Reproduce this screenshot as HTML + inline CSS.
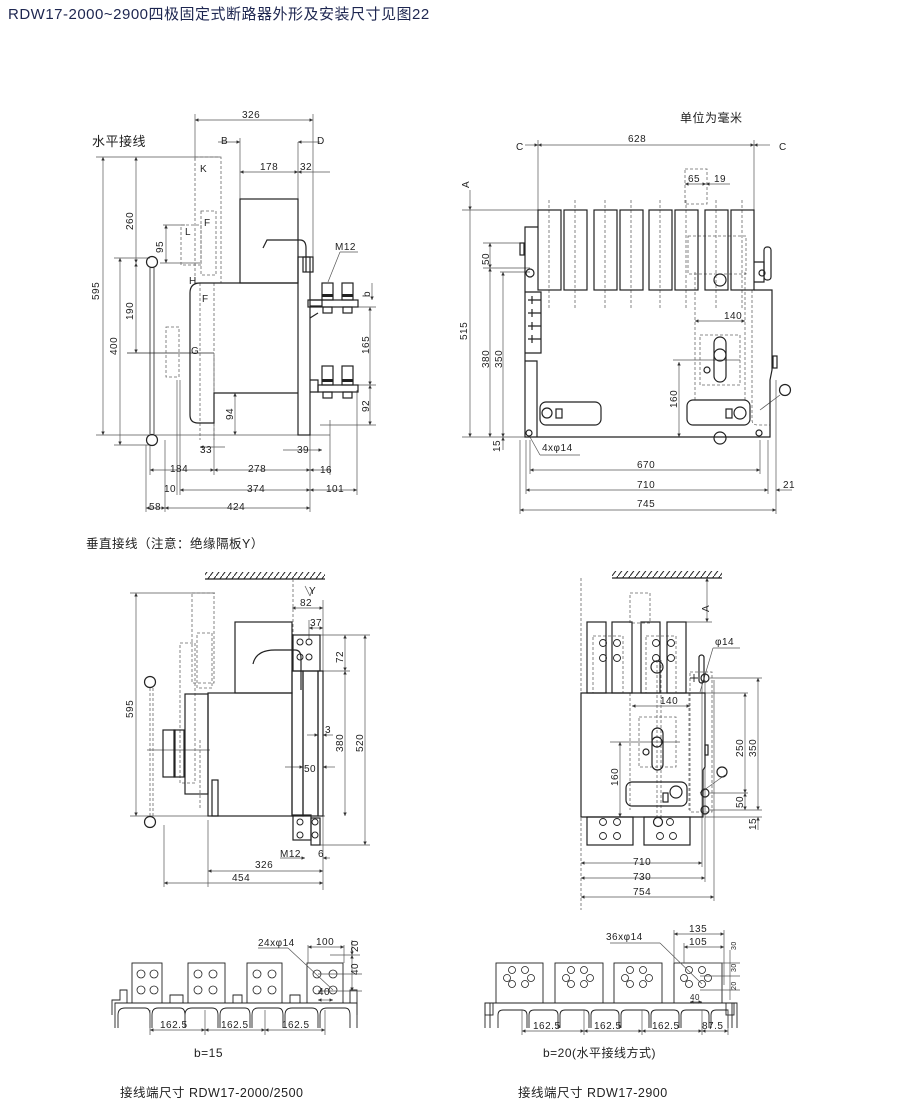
<!DOCTYPE html>
<html><head><meta charset="utf-8"><style>
html,body{margin:0;padding:0;background:#fff;}
svg{display:block;font-family:"Liberation Sans","Noto Sans CJK SC",sans-serif;}
.l{stroke:#222;stroke-width:1;fill:none}
.t{stroke:#222;stroke-width:1.2;fill:none}
.d{stroke:#555;stroke-width:0.7;fill:none}
.ds{stroke:#666;stroke-width:0.8;fill:none;stroke-dasharray:3,2}
text{font-size:10px;fill:#222;letter-spacing:0.5px}
.cn{font-size:12px}
</style></head><body>
<svg width="920" height="1105" viewBox="0 0 920 1105">
<defs>
<marker id="a" viewBox="0 0 6 6" refX="6" refY="3" markerWidth="5" markerHeight="5" orient="auto-start-reverse"><path d="M0,0 L6,3 L0,6z" fill="#333"/></marker>
<pattern id="h" width="6" height="8" patternUnits="userSpaceOnUse"><line x1="0" y1="8" x2="6" y2="0" stroke="#222" stroke-width="1"/></pattern>
</defs>
<text x="8" y="19" style="font-size:15px;fill:#1d2650">RDW17-2000~2900四极固定式断路器外形及安装尺寸见图22</text>

<!-- ============ TOP LEFT ============ -->
<text x="92" y="146" class="cn" style="font-size:13px">水平接线</text>
<g class="d">
<line x1="195" y1="114" x2="195" y2="160"/><line x1="313" y1="114" x2="313" y2="260"/>
<line x1="195" y1="120" x2="313" y2="120" marker-start="url(#a)" marker-end="url(#a)"/>
<line x1="240" y1="138" x2="240" y2="200"/><line x1="298" y1="142" x2="298" y2="200"/>
<line x1="218" y1="142" x2="240" y2="142" marker-end="url(#a)"/>
<line x1="320" y1="142" x2="298" y2="142" marker-end="url(#a)"/>
<line x1="240" y1="172" x2="298" y2="172" marker-start="url(#a)" marker-end="url(#a)"/>
<line x1="298" y1="172" x2="330" y2="172" marker-start="url(#a)"/>
<line x1="96" y1="157" x2="220" y2="157"/>
<line x1="103" y1="157" x2="103" y2="435" marker-start="url(#a)" marker-end="url(#a)"/>
<line x1="136" y1="157" x2="136" y2="263" marker-start="url(#a)" marker-end="url(#a)"/>
<line x1="136" y1="263" x2="136" y2="353" marker-start="url(#a)" marker-end="url(#a)"/>
<line x1="120" y1="258" x2="120" y2="445" marker-start="url(#a)" marker-end="url(#a)"/>
<line x1="114" y1="258" x2="150" y2="258"/><line x1="114" y1="445" x2="150" y2="445"/>
<line x1="163" y1="225" x2="185" y2="225"/><line x1="160" y1="263" x2="200" y2="263"/>
<line x1="166" y1="225" x2="166" y2="263" marker-start="url(#a)" marker-end="url(#a)"/>
<line x1="96" y1="435" x2="330" y2="435"/>
<line x1="235" y1="393" x2="235" y2="435" marker-start="url(#a)" marker-end="url(#a)"/>
<line x1="200" y1="447" x2="225" y2="447" marker-start="url(#a)"/>
<line x1="283" y1="450" x2="322" y2="450" marker-end="url(#a)"/>
<line x1="150" y1="445" x2="150" y2="475"/><line x1="214" y1="355" x2="214" y2="475"/>
<line x1="310" y1="435" x2="310" y2="512"/><line x1="330" y1="420" x2="330" y2="475"/>
<line x1="357" y1="390" x2="357" y2="495"/>
<line x1="150" y1="470" x2="214" y2="470" marker-start="url(#a)" marker-end="url(#a)"/>
<line x1="214" y1="470" x2="310" y2="470" marker-start="url(#a)" marker-end="url(#a)"/>
<line x1="310" y1="470" x2="330" y2="470" marker-start="url(#a)"/>
<line x1="180" y1="380" x2="180" y2="495"/><line x1="177" y1="380" x2="177" y2="495"/>
<line x1="180" y1="490" x2="310" y2="490" marker-start="url(#a)" marker-end="url(#a)"/>
<line x1="310" y1="490" x2="357" y2="490" marker-start="url(#a)" marker-end="url(#a)"/>
<line x1="146" y1="445" x2="146" y2="512"/><line x1="165" y1="440" x2="165" y2="512"/>
<line x1="146" y1="508" x2="165" y2="508" marker-start="url(#a)" marker-end="url(#a)"/>
<line x1="165" y1="508" x2="310" y2="508" marker-start="url(#a)" marker-end="url(#a)"/>
<line x1="370" y1="307" x2="370" y2="385" marker-start="url(#a)" marker-end="url(#a)"/>
<line x1="370" y1="385" x2="370" y2="425" marker-start="url(#a)" marker-end="url(#a)"/>
<line x1="358" y1="307" x2="376" y2="307"/><line x1="358" y1="385" x2="376" y2="385"/><line x1="320" y1="425" x2="376" y2="425"/>
<line x1="372" y1="283" x2="372" y2="300" marker-end="url(#a)"/>
<line x1="127" y1="353" x2="214" y2="353" style="stroke:#222"/>
<line x1="328" y1="282" x2="340" y2="252"/><line x1="340" y1="252" x2="358" y2="252"/>
</g>
<g class="ds">
<rect x="195" y="157" width="26" height="126"/><rect x="201" y="211" width="15" height="64"/>
<rect x="181" y="225" width="20" height="40"/><rect x="166" y="327" width="13" height="50"/>
<path d="M200,283 V440 M214,283 V440"/>
</g>
<g class="t">
<rect x="240" y="199" width="58" height="84"/>
<path d="M298,283 H200 Q190,283 190,293 V415 Q190,423 198,423 H214 V393 H298"/>
<rect x="298" y="257" width="12" height="178"/>
<path d="M310,300 L322,300 L322,306 L310,306 M310,318 L318,313 M310,380 L318,380 V392 H310"/>
<rect x="308" y="300" width="50" height="7"/>
<rect x="318" y="385" width="40" height="7"/>
<rect x="322" y="283" width="11" height="17"/><rect x="342" y="283" width="11" height="17"/>
<rect x="322" y="366" width="11" height="19"/><rect x="342" y="366" width="11" height="19"/>
<rect x="323" y="307" width="9" height="6"/><rect x="343" y="307" width="9" height="6"/>
<rect x="323" y="392" width="9" height="6"/><rect x="343" y="392" width="9" height="6"/>
<path d="M263,248 L267,240 H300 Q306,240 306,248 V272"/>
<rect x="303" y="257" width="10" height="15"/>
<circle cx="152" cy="262" r="5.5"/><circle cx="152" cy="440" r="5.5"/>
<path d="M150,268 V434 M154,268 V434" style="stroke-width:0.8"/>
</g>
<g fill="#222" stroke="none"><rect x="322" y="294" width="11" height="3"/><rect x="342" y="294" width="11" height="3"/><rect x="322" y="379" width="11" height="3"/><rect x="342" y="379" width="11" height="3"/></g>
<text x="242" y="118">326</text><text x="221" y="144">B</text><text x="317" y="144">D</text>
<text x="260" y="170">178</text><text x="300" y="170">32</text>
<text x="200" y="172">K</text><text x="204" y="226">F</text><text x="185" y="235">L</text>
<text x="189" y="284">H</text><text x="202" y="302">F</text><text x="191" y="354">G</text>
<text x="335" y="250">M12</text>
<text transform="translate(99,300) rotate(-90)">595</text>
<text transform="translate(133,230) rotate(-90)">260</text>
<text transform="translate(133,320) rotate(-90)">190</text>
<text transform="translate(117,355) rotate(-90)">400</text>
<text transform="translate(163,253) rotate(-90)">95</text>
<text transform="translate(233,420) rotate(-90)">94</text>
<text transform="translate(369,354) rotate(-90)">165</text>
<text transform="translate(369,412) rotate(-90)">92</text>
<text transform="translate(370,297) rotate(-90)">b</text>
<text x="200" y="453">33</text><text x="297" y="453">39</text>
<text x="170" y="472">184</text><text x="248" y="472">278</text><text x="320" y="473">16</text>
<text x="164" y="492">10</text><text x="247" y="492">374</text><text x="326" y="492">101</text>
<text x="149" y="510">58</text><text x="227" y="510">424</text>

<!-- ============ TOP RIGHT ============ -->
<text x="680" y="122" class="cn">单位为毫米</text>
<g class="d">
<line x1="538" y1="140" x2="538" y2="212"/><line x1="754" y1="140" x2="754" y2="212"/>
<line x1="538" y1="145" x2="754" y2="145" marker-start="url(#a)" marker-end="url(#a)"/>
<line x1="525" y1="145" x2="538" y2="145" marker-end="url(#a)"/>
<line x1="770" y1="145" x2="754" y2="145" marker-end="url(#a)"/>
<line x1="470" y1="190" x2="470" y2="210" marker-end="url(#a)"/>
<line x1="462" y1="210" x2="538" y2="210"/>
<line x1="470" y1="210" x2="470" y2="437" marker-end="url(#a)"/>
<line x1="462" y1="437" x2="530" y2="437"/>
<line x1="483" y1="243" x2="525" y2="243"/><line x1="483" y1="268" x2="530" y2="268"/>
<line x1="490" y1="243" x2="490" y2="268" marker-start="url(#a)" marker-end="url(#a)"/>
<line x1="490" y1="268" x2="490" y2="437" marker-start="url(#a)" marker-end="url(#a)"/>
<line x1="500" y1="272" x2="530" y2="272"/>
<line x1="503" y1="272" x2="503" y2="437" marker-start="url(#a)" marker-end="url(#a)"/>
<line x1="503" y1="450" x2="503" y2="437" marker-end="url(#a)"/>
<line x1="685" y1="184" x2="706" y2="184" marker-start="url(#a)" marker-end="url(#a)"/>
<line x1="706" y1="184" x2="730" y2="184" marker-start="url(#a)"/>
<line x1="695" y1="321" x2="745" y2="321" marker-start="url(#a)" marker-end="url(#a)"/>
<line x1="673" y1="360" x2="740" y2="360"/>
<line x1="679" y1="362" x2="679" y2="437" marker-start="url(#a)" marker-end="url(#a)"/>
<line x1="530" y1="440" x2="530" y2="474"/><line x1="760" y1="440" x2="760" y2="474"/>
<line x1="526" y1="440" x2="526" y2="494"/><line x1="768" y1="440" x2="768" y2="494"/>
<line x1="520" y1="440" x2="520" y2="514"/><line x1="776" y1="380" x2="776" y2="514"/>
<line x1="530" y1="470" x2="760" y2="470" marker-start="url(#a)" marker-end="url(#a)"/>
<line x1="526" y1="490" x2="768" y2="490" marker-start="url(#a)" marker-end="url(#a)"/>
<line x1="520" y1="510" x2="776" y2="510" marker-start="url(#a)" marker-end="url(#a)"/>
<line x1="792" y1="490" x2="776" y2="490" marker-end="url(#a)"/>
<line x1="530" y1="437" x2="540" y2="455"/><line x1="540" y1="455" x2="580" y2="455"/>
<line x1="760" y1="410" x2="780" y2="395"/>
</g>
<g class="ds">
<path d="M549,200 V308 M575,200 V308 M605,200 V308 M631,200 V308 M660,200 V308 M686,200 V308 M716,200 V308 M742,200 V308"/>
<rect x="685" y="169" width="22" height="35"/>
<rect x="688" y="236" width="58" height="38"/>
<rect x="700" y="335" width="40" height="50"/>
<path d="M695,272 V400 M745,272 V400 M752,290 V420 Q752,425 758,425 H770 V380"/>
</g>
<g class="t">
<rect x="538" y="210" width="23" height="80"/><rect x="564" y="210" width="23" height="80"/>
<rect x="594" y="210" width="23" height="80"/><rect x="620" y="210" width="23" height="80"/>
<rect x="649" y="210" width="23" height="80"/><rect x="675" y="210" width="23" height="80"/>
<rect x="705" y="210" width="23" height="80"/><rect x="731" y="210" width="23" height="80"/>
<path d="M538,227 H525 V437 H770 V380 L772,370 V290 H754"/>
<path d="M525,292 H541 V353 H525 M525,361 H537 V437"/>
<path d="M754,262 H764 V282 H754"/>
<rect x="764" y="247" width="7" height="33" rx="3"/>
<rect x="520" y="243" width="4" height="12"/>
<rect x="773" y="356" width="4" height="12"/>
<rect x="540" y="402" width="61" height="23" rx="6"/>
<rect x="687" y="400" width="63" height="25" rx="6"/>
<rect x="714" y="337" width="12" height="45" rx="6"/>
<circle cx="720" cy="355" r="6"/><circle cx="707" cy="370" r="3"/>
<circle cx="720" cy="280" r="6"/><circle cx="720" cy="438" r="6"/>
<circle cx="530" cy="273" r="4"/><circle cx="529" cy="433" r="3"/><circle cx="759" cy="433" r="3"/>
<circle cx="547" cy="413" r="5"/><rect x="556" y="409" width="6" height="9"/>
<circle cx="740" cy="413" r="6"/><rect x="726" y="409" width="6" height="9"/>
<circle cx="785" cy="390" r="5.5"/><circle cx="762" cy="273" r="3"/>
</g>
<g class="l" style="stroke-width:1.2">
<path d="M528,300 h8 M532,296 v8 M540,300 h0 M528,313 h8 M532,309 v8 M528,326 h8 M532,322 v8 M528,339 h8 M532,335 v8"/>
<path d="M536,300 h5 M536,313 h5 M536,326 h5 M536,339 h5"/>
</g>
<text x="628" y="142">628</text><text x="516" y="150">C</text><text x="779" y="150">C</text>
<text x="688" y="182">65</text><text x="714" y="182">19</text>
<text x="724" y="319">140</text>
<text transform="translate(469,188) rotate(-90)">A</text>
<text transform="translate(467,340) rotate(-90)">515</text>
<text transform="translate(489,265) rotate(-90)">50</text>
<text transform="translate(489,368) rotate(-90)">380</text>
<text transform="translate(502,368) rotate(-90)">350</text>
<text transform="translate(500,452) rotate(-90)">15</text>
<text transform="translate(677,408) rotate(-90)">160</text>
<text x="542" y="451">4xφ14</text>
<text x="637" y="468">670</text><text x="637" y="488">710</text><text x="637" y="507">745</text>
<text x="783" y="488">21</text>

<!-- ============ MIDDLE LEFT ============ -->
<text x="86" y="548" class="cn" style="font-size:12.5px">垂直接线（注意：绝缘隔板Y）</text>
<rect x="205" y="572" width="120" height="7" fill="url(#h)"/>
<line x1="205" y1="579" x2="325" y2="579" class="t"/>
<g class="d">
<line x1="130" y1="593" x2="215" y2="593"/>
<line x1="136" y1="593" x2="136" y2="816" marker-start="url(#a)" marker-end="url(#a)"/>
<line x1="130" y1="816" x2="325" y2="816"/>
<line x1="292" y1="608" x2="323" y2="608" marker-start="url(#a)" marker-end="url(#a)"/>
<line x1="309" y1="628" x2="323" y2="628" marker-start="url(#a)" marker-end="url(#a)"/>
<line x1="323" y1="600" x2="323" y2="890"/><line x1="309" y1="620" x2="309" y2="640"/>
<line x1="320" y1="635" x2="370" y2="635"/><line x1="320" y1="671" x2="350" y2="671"/><line x1="320" y1="845" x2="370" y2="845"/>
<line x1="345" y1="635" x2="345" y2="671" marker-start="url(#a)" marker-end="url(#a)"/>
<line x1="345" y1="671" x2="345" y2="816" marker-start="url(#a)" marker-end="url(#a)"/>
<line x1="365" y1="635" x2="365" y2="845" marker-start="url(#a)" marker-end="url(#a)"/>
<line x1="307" y1="735" x2="318" y2="735" marker-end="url(#a)"/>
<line x1="333" y1="735" x2="323" y2="735" marker-end="url(#a)"/>
<line x1="285" y1="767" x2="303" y2="767" marker-end="url(#a)"/>
<line x1="335" y1="767" x2="323" y2="767" marker-end="url(#a)"/>
<line x1="280" y1="858" x2="305" y2="858" marker-end="url(#a)"/>
<line x1="330" y1="858" x2="323" y2="858" marker-end="url(#a)"/>
<line x1="208" y1="820" x2="208" y2="887"/><line x1="164" y1="825" x2="164" y2="887"/>
<line x1="208" y1="871" x2="323" y2="871" marker-start="url(#a)" marker-end="url(#a)"/>
<line x1="164" y1="883" x2="323" y2="883" marker-start="url(#a)" marker-end="url(#a)"/>
<line x1="147" y1="750" x2="210" y2="750"/>
<line x1="305" y1="586" x2="310" y2="596" /><line x1="310" y1="596" x2="312" y2="590"/>
</g>
<g class="ds">
<path d="M293,579 V640"/>
<rect x="192" y="593" width="22" height="90"/><rect x="197" y="633" width="15" height="55"/>
<rect x="180" y="643" width="15" height="140"/>
<path d="M150,688 V816 M153,688 V816 M200,740 V810"/>
</g>
<g class="t">
<rect x="235" y="622" width="57" height="71"/>
<rect x="208" y="693" width="84" height="123"/>
<rect x="185" y="694" width="23" height="100"/>
<rect x="163" y="730" width="12" height="47"/><rect x="174" y="730" width="10" height="47"/>
<rect x="292" y="671" width="11" height="145"/>
<rect x="303" y="671" width="15" height="145"/><rect x="318" y="671" width="5" height="145"/>
<rect x="212" y="780" width="6" height="36"/>
<path d="M253,664 Q256,650 275,650 H295 Q301,650 301,658 V690"/>
<circle cx="150" cy="682" r="5.5"/><circle cx="150" cy="822" r="5.5"/>
<rect x="293" y="635" width="27" height="36"/>
<rect x="293" y="815" width="18" height="25"/><rect x="311" y="818" width="9" height="27"/>
</g>
<g class="l"><circle cx="300" cy="642" r="3"/><circle cx="300" cy="657" r="3"/><circle cx="309" cy="642" r="3"/><circle cx="309" cy="657" r="3"/><circle cx="300" cy="822" r="3"/><circle cx="300" cy="835" r="3"/><circle cx="315" cy="822" r="3"/><circle cx="315" cy="835" r="3"/></g>
<text x="309" y="594">Y</text>
<text x="300" y="606">82</text><text x="310" y="626">37</text>
<text transform="translate(343,663) rotate(-90)">72</text>
<text transform="translate(343,752) rotate(-90)">380</text>
<text transform="translate(363,752) rotate(-90)">520</text>
<text x="325" y="733">3</text><text x="304" y="772">50</text>
<text x="280" y="857">M12</text><text x="318" y="857">6</text>
<text x="255" y="868">326</text><text x="232" y="881">454</text>
<text transform="translate(133,718) rotate(-90)">595</text>

<!-- ============ MIDDLE RIGHT ============ -->
<rect x="612" y="571" width="110" height="7" fill="url(#h)"/>
<line x1="612" y1="578" x2="722" y2="578" class="t"/>
<g class="d">
<line x1="707" y1="578" x2="707" y2="622" marker-start="url(#a)" marker-end="url(#a)"/>
<line x1="686" y1="622" x2="712" y2="622"/>
<line x1="632" y1="706" x2="690" y2="706" marker-start="url(#a)" marker-end="url(#a)"/>
<line x1="610" y1="742" x2="680" y2="742"/>
<line x1="620" y1="742" x2="620" y2="817" marker-start="url(#a)" marker-end="url(#a)"/>
<line x1="710" y1="678" x2="762" y2="678"/><line x1="705" y1="693" x2="748" y2="693"/>
<line x1="710" y1="793" x2="748" y2="793"/><line x1="710" y1="810" x2="762" y2="810"/>
<line x1="745" y1="693" x2="745" y2="793" marker-start="url(#a)" marker-end="url(#a)"/>
<line x1="745" y1="793" x2="745" y2="810" marker-start="url(#a)" marker-end="url(#a)"/>
<line x1="758" y1="678" x2="758" y2="810" marker-start="url(#a)" marker-end="url(#a)"/>
<line x1="758" y1="830" x2="758" y2="817" marker-end="url(#a)"/>
<line x1="705" y1="817" x2="762" y2="817"/>
<line x1="702" y1="680" x2="702" y2="867"/><line x1="705" y1="680" x2="705" y2="882"/><line x1="714" y1="680" x2="714" y2="901"/>
<line x1="581" y1="863" x2="702" y2="863" marker-start="url(#a)" marker-end="url(#a)"/>
<line x1="581" y1="878" x2="705" y2="878" marker-start="url(#a)" marker-end="url(#a)"/>
<line x1="581" y1="897" x2="714" y2="897" marker-start="url(#a)" marker-end="url(#a)"/>
<line x1="700" y1="692" x2="713" y2="648"/><line x1="713" y1="648" x2="740" y2="648"/>
<line x1="700" y1="793" x2="725" y2="775"/>
</g>
<g class="ds">
<path d="M581,578 V910"/>
<rect x="630" y="593" width="20" height="30"/>
<rect x="593" y="636" width="30" height="57"/><rect x="646" y="636" width="30" height="57"/>
<rect x="639" y="717" width="37" height="50"/>
<path d="M630,693 V810 M689,693 V810 M657,660 V820 M661,660 V820"/>
<rect x="690" y="672" width="22" height="140"/>
</g>
<g class="t">
<rect x="587" y="622" width="19" height="71"/><rect x="612" y="622" width="20" height="71"/>
<rect x="641" y="622" width="19" height="71"/><rect x="667" y="622" width="19" height="71"/>
<path d="M581,693 H705 V767 L703,770 V817 H581 Z"/>
<rect x="587" y="817" width="46" height="28"/><rect x="644" y="817" width="46" height="28"/>
<rect x="626" y="782" width="61" height="24" rx="6"/>
<rect x="652" y="728" width="11" height="42" rx="5.5"/>
<circle cx="657" cy="742" r="5"/><circle cx="646" cy="752" r="3"/>
<circle cx="676" cy="792" r="6"/><rect x="663" y="793" width="5" height="9"/>
<circle cx="657" cy="667" r="6"/>
<rect x="699" y="655" width="5" height="28" rx="2.5"/>
<circle cx="705" cy="678" r="4"/><circle cx="705" cy="793" r="4"/><circle cx="705" cy="810" r="4"/>
<circle cx="722" cy="772" r="5"/>
<rect x="705" y="745" width="3" height="10"/>
<circle cx="658" cy="822" r="4.5"/>
</g>
<g class="l" style="stroke-width:0.9">
<circle cx="603" cy="643" r="3.5"/><circle cx="603" cy="658" r="3.5"/><circle cx="617" cy="643" r="3.5"/><circle cx="617" cy="658" r="3.5"/>
<circle cx="656" cy="643" r="3.5"/><circle cx="656" cy="658" r="3.5"/><circle cx="671" cy="643" r="3.5"/><circle cx="671" cy="658" r="3.5"/>
<circle cx="603" cy="822" r="3.5"/><circle cx="603" cy="836" r="3.5"/><circle cx="617" cy="822" r="3.5"/><circle cx="617" cy="836" r="3.5"/>
<circle cx="670" cy="822" r="3.5"/><circle cx="660" cy="836" r="3.5"/><circle cx="673" cy="836" r="3.5"/>
<path d="M690,678 h8 M694,674 v8"/>
</g>
<text transform="translate(709,612) rotate(-90)">A</text>
<text x="715" y="645">φ14</text>
<text x="660" y="704">140</text>
<text transform="translate(743,757) rotate(-90)">250</text>
<text transform="translate(756,757) rotate(-90)">350</text>
<text transform="translate(618,786) rotate(-90)">160</text>
<text transform="translate(743,808) rotate(-90)">50</text>
<text transform="translate(756,830) rotate(-90)">15</text>
<text x="633" y="865">710</text><text x="633" y="880">730</text><text x="633" y="895">754</text>

<!-- ============ BOTTOM LEFT ============ -->
<g class="t" style="stroke-width:0.9">
<rect x="132" y="963" width="30" height="40"/><rect x="188" y="963" width="37" height="40"/>
<rect x="247" y="963" width="35" height="40"/><rect x="307" y="963" width="36" height="40"/>
<path d="M112,1015 V1000 H120 V990 H127 V1003 M350,1003 V990 H357 V1015 M170,1003 V995 H183 V1003 M233,1003 V995 H242 V1003 M290,1003 V995 H300 V1003"/>
<path d="M115,1028 V1003 H357 V1028"/>
<path d="M118,1028 V1015 Q118,1008 125,1008 H145 Q150,1008 150,1015 V1028 M152,1028 V1015 Q152,1008 158,1008 H180 Q185,1008 185,1015 V1028 M185,1028 V1015 Q185,1008 192,1008 H212 Q218,1008 218,1015 V1028 M220,1028 V1015 Q220,1008 227,1008 H245 Q250,1008 250,1015 V1028 M252,1028 V1015 Q252,1008 258,1008 H278 Q283,1008 283,1015 V1028 M285,1028 V1015 Q285,1008 292,1008 H312 Q318,1008 318,1015 V1028 M320,1028 V1015 Q320,1008 327,1008 H345 Q350,1008 350,1015 V1028"/>
</g>
<g class="l" style="stroke-width:0.8">
<circle cx="141" cy="974" r="4"/><circle cx="154" cy="974" r="4"/><circle cx="141" cy="990" r="4"/><circle cx="154" cy="990" r="4"/>
<circle cx="198" cy="974" r="4"/><circle cx="213" cy="974" r="4"/><circle cx="198" cy="990" r="4"/><circle cx="213" cy="990" r="4"/>
<circle cx="257" cy="974" r="4"/><circle cx="272" cy="974" r="4"/><circle cx="257" cy="990" r="4"/><circle cx="272" cy="990" r="4"/>
<circle cx="317" cy="974" r="4"/><circle cx="333" cy="974" r="4"/><circle cx="317" cy="990" r="4"/><circle cx="333" cy="990" r="4"/>
</g>
<g class="d">
<line x1="150" y1="1010" x2="150" y2="1035"/><line x1="205" y1="1010" x2="205" y2="1035"/><line x1="265" y1="1010" x2="265" y2="1035"/><line x1="325" y1="1010" x2="325" y2="1035"/>
<line x1="150" y1="1030" x2="205" y2="1030" marker-start="url(#a)" marker-end="url(#a)"/>
<line x1="205" y1="1030" x2="265" y2="1030" marker-start="url(#a)" marker-end="url(#a)"/>
<line x1="265" y1="1030" x2="325" y2="1030" marker-start="url(#a)" marker-end="url(#a)"/>
<line x1="308" y1="947" x2="344" y2="947" marker-start="url(#a)" marker-end="url(#a)"/>
<line x1="308" y1="945" x2="308" y2="963"/><line x1="344" y1="945" x2="344" y2="963"/>
<line x1="352" y1="940" x2="352" y2="955" marker-end="url(#a)"/>
<line x1="352" y1="955" x2="352" y2="991" marker-start="url(#a)" marker-end="url(#a)"/>
<line x1="318" y1="974" x2="362" y2="974"/><line x1="318" y1="991" x2="362" y2="991"/><line x1="330" y1="955" x2="360" y2="955"/>
<line x1="318" y1="1000" x2="333" y2="1000" marker-start="url(#a)" marker-end="url(#a)"/>
<line x1="258" y1="948" x2="288" y2="948"/><line x1="288" y1="948" x2="333" y2="990"/>
</g>
<text x="258" y="946">24xφ14</text><text x="316" y="945">100</text>
<text transform="translate(358,952) rotate(-90)">20</text>
<text transform="translate(358,975) rotate(-90)">40</text>
<text x="318" y="995">40</text>
<text x="160" y="1028">162.5</text><text x="221" y="1028">162.5</text><text x="282" y="1028">162.5</text>
<text x="194" y="1057" class="cn">b=15</text>
<text x="120" y="1097" class="cn" style="font-size:12.5px">接线端尺寸 RDW17-2000/2500</text>

<!-- ============ BOTTOM RIGHT ============ -->
<g class="t" style="stroke-width:0.9">
<rect x="496" y="963" width="47" height="40"/><rect x="555" y="963" width="48" height="40"/>
<rect x="614" y="963" width="48" height="40"/><rect x="674" y="963" width="48" height="40"/>
<path d="M485,1028 V1003 H493 M727,1003 H737 V1028"/>
<rect x="485" y="1003" width="8" height="12"/><rect x="726" y="1003" width="8" height="12"/>
<path d="M490,1028 V1003 H732 V1028"/>
<path d="M498,1028 V1015 Q498,1010 503,1010 H522 Q527,1010 527,1015 V1028 M529,1028 V1015 Q529,1010 534,1010 H553 Q558,1010 558,1015 V1028 M560,1028 V1015 Q560,1010 565,1010 H584 Q589,1010 589,1015 V1028 M591,1028 V1015 Q591,1010 596,1010 H614 Q619,1010 619,1015 V1028 M621,1028 V1015 Q621,1010 626,1010 H644 Q649,1010 649,1015 V1028 M651,1028 V1015 Q651,1010 656,1010 H674 Q679,1010 679,1015 V1028 M681,1028 V1015 Q681,1010 686,1010 H704 Q709,1010 709,1015 V1028 M711,1028 V1015 Q711,1010 716,1010 H728 V1028"/>
</g>
<g class="l" style="stroke-width:0.8">
<circle cx="507" cy="978" r="3.5"/><circle cx="512" cy="970" r="3.5"/><circle cx="525" cy="970" r="3.5"/><circle cx="512" cy="984" r="3.5"/><circle cx="525" cy="984" r="3.5"/><circle cx="531" cy="978" r="3.5"/>
<circle cx="566" cy="978" r="3.5"/><circle cx="571" cy="970" r="3.5"/><circle cx="584" cy="970" r="3.5"/><circle cx="571" cy="984" r="3.5"/><circle cx="584" cy="984" r="3.5"/><circle cx="590" cy="978" r="3.5"/>
<circle cx="625" cy="978" r="3.5"/><circle cx="630" cy="970" r="3.5"/><circle cx="643" cy="970" r="3.5"/><circle cx="630" cy="984" r="3.5"/><circle cx="643" cy="984" r="3.5"/><circle cx="649" cy="978" r="3.5"/>
<circle cx="684" cy="978" r="3.5"/><circle cx="689" cy="970" r="3.5"/><circle cx="702" cy="970" r="3.5"/><circle cx="689" cy="984" r="3.5"/><circle cx="702" cy="984" r="3.5"/><circle cx="708" cy="978" r="3.5"/>
</g>
<g class="d">
<line x1="522" y1="1010" x2="522" y2="1035"/><line x1="584" y1="1010" x2="584" y2="1035"/><line x1="642" y1="1010" x2="642" y2="1035"/><line x1="702" y1="1010" x2="702" y2="1035"/><line x1="728" y1="1010" x2="728" y2="1035"/>
<line x1="522" y1="1031" x2="584" y2="1031" marker-start="url(#a)" marker-end="url(#a)"/>
<line x1="584" y1="1031" x2="642" y2="1031" marker-start="url(#a)" marker-end="url(#a)"/>
<line x1="642" y1="1031" x2="702" y2="1031" marker-start="url(#a)" marker-end="url(#a)"/>
<line x1="702" y1="1031" x2="728" y2="1031" marker-start="url(#a)" marker-end="url(#a)"/>
<line x1="674" y1="930" x2="674" y2="963"/><line x1="724" y1="930" x2="724" y2="985"/><line x1="684" y1="943" x2="684" y2="963"/>
<line x1="674" y1="934" x2="724" y2="934" marker-start="url(#a)" marker-end="url(#a)"/>
<line x1="684" y1="947" x2="724" y2="947" marker-start="url(#a)" marker-end="url(#a)"/>
<line x1="730" y1="950" x2="730" y2="1000"/>
<line x1="700" y1="963" x2="740" y2="963"/><line x1="700" y1="976" x2="740" y2="976"/><line x1="700" y1="990" x2="740" y2="990"/>
<line x1="690" y1="1002" x2="702" y2="1002" marker-start="url(#a)" marker-end="url(#a)"/>
<line x1="610" y1="943" x2="660" y2="943"/><line x1="660" y1="943" x2="702" y2="984"/>
</g>
<text x="606" y="940">36xφ14</text><text x="689" y="932">135</text><text x="689" y="945">105</text>
<text transform="translate(736,950) rotate(-90)" style="font-size:7px">30</text>
<text transform="translate(736,972) rotate(-90)" style="font-size:7px">30</text>
<text transform="translate(736,990) rotate(-90)" style="font-size:7px">20</text>
<text x="690" y="1000" style="font-size:8px">40</text>
<text x="533" y="1029">162.5</text><text x="594" y="1029">162.5</text><text x="652" y="1029">162.5</text><text x="702" y="1029">87.5</text>
<text x="543" y="1057" class="cn">b=20(水平接线方式)</text>
<text x="518" y="1097" class="cn" style="font-size:12.5px">接线端尺寸 RDW17-2900</text>
</svg>
</body></html>
